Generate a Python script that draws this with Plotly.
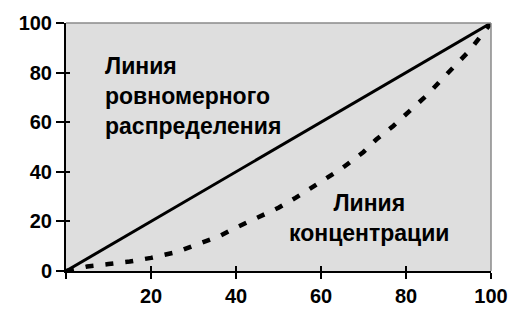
import plotly.graph_objects as go

# Data
uniform_x = [0, 100]
uniform_y = [0, 100]
conc_x = [0, 5, 10, 15, 20, 26, 30, 36, 40, 45, 50, 54, 59, 65, 70, 73, 77, 81, 85, 88, 91, 95, 100]
conc_y = [0, 1.8, 2.8, 3.8, 5.3, 7.6, 10.2, 14, 17.5, 21.5, 25.5, 29.5, 35, 41.5, 48, 53, 58.5, 64.5, 71, 76.5, 82, 89, 100]
x_ticks = [0, 20, 40, 60, 80, 100]
x_ticktext = ["", "20", "40", "60", "80", "100"]
y_ticks = [0, 20, 40, 60, 80, 100]

FONT = "Liberation Sans, Arial, sans-serif"

fig = go.Figure()
fig.add_trace(go.Scatter(x=conc_x, y=conc_y, mode="lines",
                         line=dict(color="black", width=4.5, dash="8px,12px"),
                         hoverinfo="skip", showlegend=False))
fig.add_trace(go.Scatter(x=uniform_x, y=uniform_y, mode="lines",
                         line=dict(color="black", width=3),
                         hoverinfo="skip", showlegend=False))
# invisible trace on overlay axes (inner tick marks)
fig.add_trace(go.Scatter(x=[0], y=[0], xaxis="x2", yaxis="y2", mode="markers",
                         marker=dict(opacity=0), hoverinfo="skip", showlegend=False))

fig.update_layout(
    width=523, height=319,
    margin=dict(l=66, r=32, t=23, b=44),
    paper_bgcolor="white",
    plot_bgcolor="#DEDEDE",
    xaxis=dict(range=[0, 100], tickvals=x_ticks, ticktext=x_ticktext,
               ticks="outside", ticklen=6, tickwidth=2, tickcolor="black",
               showline=True, linecolor="black", linewidth=2, mirror=False,
               showgrid=False, zeroline=False,
               tickfont=dict(family=FONT, size=20, color="black", weight="bold")),
    yaxis=dict(range=[0, 100], tickvals=y_ticks,
               ticks="outside", ticklen=8, tickwidth=2, tickcolor="black",
               showline=True, linecolor="black", linewidth=2,
               showgrid=False, zeroline=False,
               tickfont=dict(family=FONT, size=20, color="black", weight="bold")),
    xaxis2=dict(range=[0, 100], overlaying="x", tickvals=x_ticks, showticklabels=False,
                ticks="inside", ticklen=5, tickwidth=2, tickcolor="black",
                showline=False, showgrid=False, zeroline=False),
    yaxis2=dict(range=[0, 100], overlaying="y", tickvals=y_ticks, showticklabels=False,
                ticks="inside", ticklen=4, tickwidth=2, tickcolor="black",
                showline=False, showgrid=False, zeroline=False),
    shapes=[
        dict(type="line", xref="paper", yref="paper", x0=0, x1=1, y0=1, y1=1,
             line=dict(color="#8A8A8A", width=1.5)),
        dict(type="line", xref="paper", yref="paper", x0=1, x1=1, y0=0, y1=1,
             line=dict(color="#8A8A8A", width=1.5)),
    ],
    annotations=[
        dict(x=8.7, y=70.6, xref="x", yref="y", xanchor="left", yanchor="middle",
             text="Линия<br>ровномерного<br>распределения", showarrow=False, align="left",
             font=dict(family=FONT, size=23, color="black", weight="bold")),
        dict(x=71.3, y=21.2, xref="x", yref="y", xanchor="center", yanchor="middle",
             text="Линия<br>концентрации", showarrow=False, align="center",
             font=dict(family=FONT, size=23, color="black", weight="bold")),
    ],
)

fig.write_html("out.html")
